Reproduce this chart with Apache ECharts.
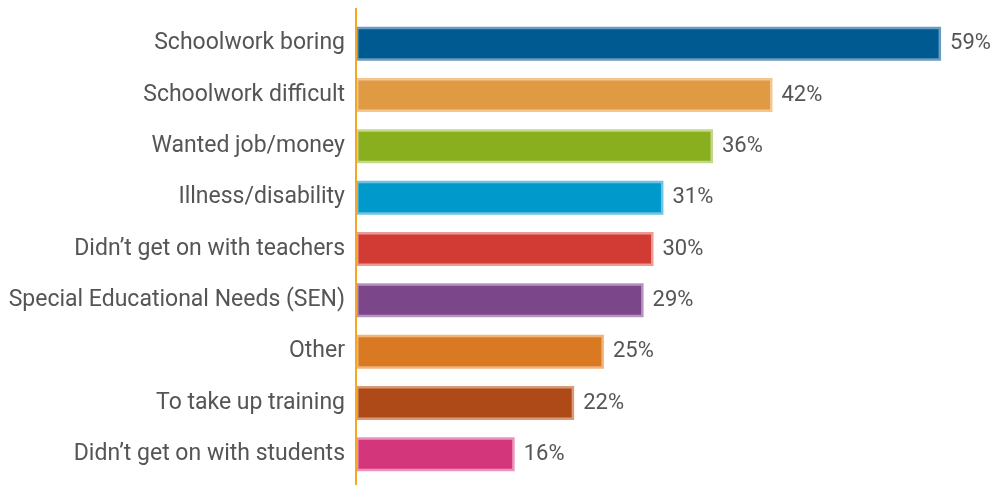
<!DOCTYPE html>
<html>
<head>
<meta charset="utf-8">
<script src="https://cdn.jsdelivr.net/npm/echarts@6/dist/echarts.min.js"></script>
<style>
html,body{margin:0;padding:0;background:#fff;}
#chart{width:992px;height:485px;}
</style>
</head>
<body>
<div id="chart"></div>
<script>
const categories = ["Schoolwork boring","Schoolwork difficult","Wanted job/money","Illness/disability","Didn\u2019t get on with teachers","Special Educational Needs (SEN)","Other","To take up training","Didn\u2019t get on with students"];
const values = [59, 42, 36, 31, 30, 29, 25, 22, 16];
const barColors = ["#005a92","#e09a44","#89ae1e","#0099cc","#d13b34","#7c478a","#d97a23","#ad4a17","#d3367a"];
const borderColors = ["#6b9cc2","#f2c78f","#c2d88a","#6ec3e2","#eb9a95","#b494bf","#f0b47c","#d99a78","#eb94bb"];

const chart = echarts.init(document.getElementById('chart'), null, {renderer:'canvas'});
chart.setOption({
  animation:false,
  graphic:[{type:'line', shape:{x1:356, y1:8, x2:356, y2:485}, style:{stroke:'#f5a623', lineWidth:2}, z:10}],
  grid:{left:356, top:18, width:595, bottom:5, containLabel:false},
  xAxis:{type:'value', min:0, max:60, show:false},
  yAxis:{type:'category', data:categories, inverse:true,
    axisLine:{show:true, lineStyle:{color:'#f5a623', width:2}},
    axisTick:{show:false},
    axisLabel:{fontFamily:'Roboto', fontSize:23, color:'#555555', margin:11},
    splitLine:{show:false}
  },
  series:[{
    type:'bar',
    barWidth:34,
    data: values.map((v,i)=>({value:v, itemStyle:{color:barColors[i], borderColor:borderColors[i], borderWidth:2.5}})),
    label:{show:true, position:'right', distance:9, formatter:'{c}%', fontFamily:'Roboto', fontSize:22, color:'#555555'}
  }]
});
</script>
</body>
</html>
